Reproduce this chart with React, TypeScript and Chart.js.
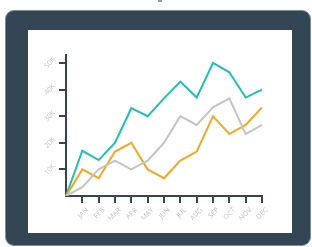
import React, { useEffect, useRef } from "react";
import { Chart, registerables } from "chart.js";

Chart.register(...registerables);

const categories = ["", "JAN", "FEB", "MAR", "APR", "MAY", "JUN", "JUL", "AUG", "SEP", "OCT", "NOV", "DEC"];
const tealSeries = [0, 17000, 13500, 20000, 33000, 30000, 36700, 43000, 37000, 50000, 46500, 37000, 40000];
const orangeSeries = [0, 10000, 6700, 16700, 20000, 10000, 6700, 13300, 16700, 30000, 23300, 26700, 33300];
const graySeries = [0, 3300, 10000, 13300, 10000, 13300, 20000, 30000, 26700, 33300, 36700, 23300, 26700];
const yTickValues = [10000, 20000, 30000, 40000, 50000];

const AXIS = "#334553";
const LABEL = "#c2c2c2";

export default function App() {
  const ref = useRef<HTMLCanvasElement | null>(null);
  useEffect(() => {
    if (!ref.current) return;
    const chart = new Chart(ref.current, {
      type: "line",
      data: {
        labels: categories,
        datasets: [
          { data: graySeries, borderColor: "#c4c4c4", borderWidth: 2, pointRadius: 0, tension: 0, fill: false },
          { data: orangeSeries, borderColor: "#f7a521", borderWidth: 2, pointRadius: 0, tension: 0, fill: false },
          { data: tealSeries, borderColor: "#22bdb6", borderWidth: 2, pointRadius: 0, tension: 0, fill: false },
        ],
      },
      options: {
        animation: false,
        responsive: false,
        devicePixelRatio: 1,
        layout: { padding: { top: 25, right: 30, left: 0, bottom: 0 } },
        plugins: { legend: { display: false }, tooltip: { enabled: false } },
        scales: {
          x: {
            type: "category",
            offset: false,
            grid: {
              display: true,
              drawOnChartArea: false,
              drawTicks: true,
              tickLength: 7,
              lineWidth: 2,
              color: (ctx: any) => (ctx.index === 0 ? "rgba(0,0,0,0)" : AXIS),
            },
            border: { display: true, color: AXIS, width: 2 },
            ticks: {
              autoSkip: false,
              minRotation: 45,
              maxRotation: 45,
              labelOffset: 5,
              padding: 3,
              color: LABEL,
              font: { family: "'Open Sans', sans-serif", size: 7 },
            },
            afterFit: (scale: any) => {
              scale.height = 37;
            },
          },
          y: {
            type: "linear",
            min: 0,
            max: 53000,
            grid: {
              display: true,
              drawOnChartArea: false,
              drawTicks: true,
              tickLength: 7,
              lineWidth: 2,
              color: (ctx: any) => (ctx.tick && ctx.tick.value === 0 ? "rgba(0,0,0,0)" : AXIS),
            },
            border: { display: true, color: AXIS, width: 2 },
            afterBuildTicks: (scale: any) => {
              scale.ticks = [{ value: 0 }, ...yTickValues.map((v) => ({ value: v }))];
            },
            ticks: {
              minRotation: 45,
              maxRotation: 45,
              crossAlign: "center",
              padding: 3,
              color: LABEL,
              font: { family: "'Open Sans', sans-serif", size: 7 },
              callback: (v: any) => (v === 0 ? "" : `${Number(v) / 1000}K`),
            },
            afterFit: (scale: any) => {
              scale.width = 38;
            },
          },
        },
      },
    });
    return () => chart.destroy();
  }, []);

  return (
    <div style={{ position: "fixed", left: 0, top: 0, width: 312, height: 247, background: "#fff", overflow: "hidden" }}>
      <div style={{ position: "absolute", left: 158, top: 0, width: 4, height: 2, background: "#9a9a9a" }} />
      <div
        style={{
          position: "absolute",
          left: 5,
          top: 10,
          width: 306,
          height: 236,
          boxSizing: "border-box",
          background: "#334654",
          borderRadius: 9,
          border: "1px solid #7f8d98",
        }}
      />
      <div style={{ position: "absolute", left: 28, top: 30, width: 264, height: 203, background: "#fff" }}>
        <canvas ref={ref} width={264} height={203} style={{ width: 264, height: 203, display: "block" }} />
      </div>
    </div>
  );
}
